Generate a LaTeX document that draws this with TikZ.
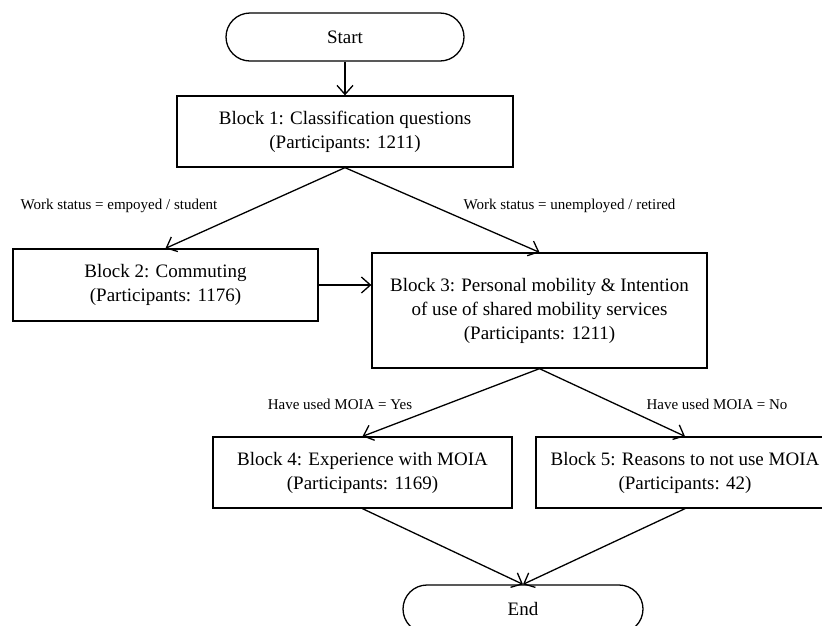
\documentclass[tikz,border=0pt]{standalone}
\usepackage{fontspec}
\setmainfont{Liberation Serif}
\usetikzlibrary{arrows.meta}
\begin{document}
\begin{tikzpicture}[x=1pt,y=-1pt,
  box/.style={draw, line width=1.3pt, inner sep=0pt, align=center, font=\fontsize{19}{24}\selectfont},
  term/.style={box, rounded corners=24pt, minimum width=238pt, minimum height=48pt},
  lbl/.style={inner sep=0pt, font=\fontsize{15}{18}\selectfont},
  arr/.style={line width=1.3pt, -{Straight Barb[length=9pt,width=16pt,line width=1.3pt]}}]
\useasboundingbox (0,0) rectangle (822,625);
\clip (0,0) rectangle (822,625);
\fill[white] (0,0) rectangle (822,625);
\node[term] (start) at (345,37) {Start};
\node[box, minimum width=336pt, minimum height=71pt] (b1) at (345,131.5) {Block 1: Classification questions\\(Participants: 1211)};
\node[box, minimum width=305pt, minimum height=72pt] (b2) at (165.5,285) {Block 2: Commuting\\(Participants: 1176)};
\node[box, minimum width=335pt, minimum height=115pt] (b3) at (539.5,310.5) {Block 3: Personal mobility \& Intention\\of use of shared mobility services\\(Participants: 1211)};
\node[box, minimum width=299pt, minimum height=71pt] (b4) at (362.5,472.5) {Block 4: Experience with MOIA\\(Participants: 1169)};
\node[box, minimum width=298pt, minimum height=71pt] (b5) at (685,472.5) {Block 5: Reasons to not use MOIA\\(Participants: 42)};
\node[term, minimum width=240pt] (end) at (523,609) {End};
\node[lbl] (l1) at (119,206) {Work status = empoyed / student};
\node[lbl] (l2) at (569.5,206) {Work status = unemployed / retired};
\node[lbl] (l3) at (340,404) {Have used MOIA = Yes};
\node[lbl] (l4) at (717,404) {Have used MOIA = No};
\draw[arr] (start.south) -- (b1.north);
\draw[arr] (b1.south) -- (b2.north);
\draw[arr] (b1.south) -- (b3.north);
\draw[arr] (b2.east) -- (b2.east -| b3.west);
\draw[arr] (b3.south) -- (b4.north);
\draw[arr] (b3.south) -- (b5.north);
\draw[arr] (b4.south) -- (end.north);
\draw[arr] (b5.south) -- (end.north);
\end{tikzpicture}
\end{document}
